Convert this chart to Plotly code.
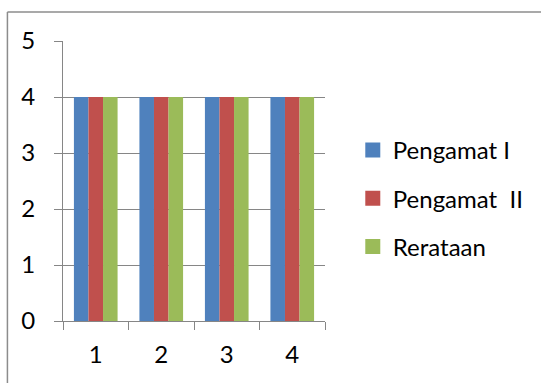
import plotly.graph_objects as go

categories = ["1", "2", "3", "4"]
pengamat_1 = [4, 4, 4, 4]
pengamat_2 = [4, 4, 4, 4]
rerataan = [4, 4, 4, 4]
y_ticks = [0, 1, 2, 3, 4, 5]

series = [
    ("Pengamat I", pengamat_1, "#4F81BD"),
    ("Pengamat  II", pengamat_2, "#C0504D"),
    ("Rerataan", rerataan, "#9BBB59"),
]

W, H = 541, 383
L, R, T, B = 63, 327, 41, 321
pw, ph = R - L, B - T


def px(x):
    return (x - L) / pw


def py(y):
    return (B - y) / ph


fig = go.Figure()
for i, (name, vals, color) in enumerate(series):
    fig.add_trace(go.Bar(
        x=categories, y=vals, name=name,
        marker=dict(color=color, line=dict(width=0)),
        legendgroup=f"g{i}", showlegend=False,
    ))
    # legend key drawn as a larger square swatch
    fig.add_trace(go.Scatter(
        x=[None], y=[None], mode="markers", name=name,
        marker=dict(symbol="square", size=15, color=color),
        legendgroup=f"g{i}", showlegend=True,
    ))

axis_grey = "#868686"
font_family = "Lato, 'Open Sans', sans-serif"

fig.update_layout(
    width=W, height=H,
    margin=dict(l=L, r=W - R, t=T, b=H - B, pad=0),
    paper_bgcolor="white", plot_bgcolor="white",
    barmode="group", bargap=1 / 3, bargroupgap=0,
    font=dict(family=font_family, size=24, color="black"),
    xaxis=dict(
        type="category", tickson="boundaries",
        ticks="outside", ticklen=8, tickcolor=axis_grey, tickwidth=1,
        showline=True, linecolor=axis_grey, linewidth=1,
        showgrid=False, ticklabelstandoff=12,
    ),
    yaxis=dict(
        range=[0, 5], tickvals=y_ticks,
        ticks="outside", ticklen=8, tickcolor=axis_grey, tickwidth=1,
        showline=True, linecolor=axis_grey, linewidth=1,
        showgrid=True, gridcolor=axis_grey, gridwidth=1,
        zeroline=False, ticklabelstandoff=14,
    ),
    legend=dict(
        x=px(355), y=py(128), xanchor="left", yanchor="top",
        font=dict(size=24), tracegroupgap=14, itemwidth=30,
        bgcolor="rgba(0,0,0,0)",
    ),
    showlegend=True,
)

# Outer chart frame (left and top edges)
fig.add_shape(type="line", xref="paper", yref="paper",
              x0=px(7), x1=px(W + 5), y0=py(12), y1=py(12),
              line=dict(color="#8c8c8c", width=1.5))
fig.add_shape(type="line", xref="paper", yref="paper",
              x0=px(7), x1=px(7), y0=py(12), y1=py(H + 5),
              line=dict(color="#8c8c8c", width=1.5))

fig.write_html("out.html")
